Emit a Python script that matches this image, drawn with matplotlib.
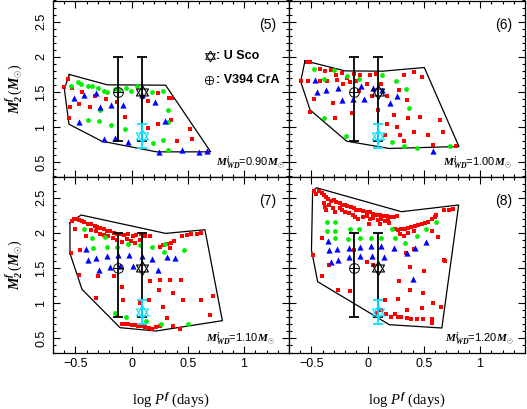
import matplotlib
matplotlib.use('Agg')
import matplotlib.pyplot as plt
from matplotlib.ticker import FixedLocator, MultipleLocator

plt.rcParams['font.family'] = ['Liberation Sans', 'DejaVu Sans']
plt.rcParams['mathtext.fontset'] = 'custom'
plt.rcParams['mathtext.rm'] = 'Liberation Serif'
plt.rcParams['mathtext.it'] = 'Liberation Serif:italic'
plt.rcParams['mathtext.bf'] = 'Liberation Serif:italic:bold'

# ---------------- data ----------------
# Panel (5)  M_WD = 0.90
p5_red_logp = [-0.57, -0.60, -0.53, -0.44, -0.33, -0.23, -0.13, -0.55, -0.47, -0.37, -0.56, -0.06,
               0.145, 0.23, 0.335, 0.36, 0.145, 0.235, 0.35, 0.40, 0.52, 0.535]
p5_red_m2 = [1.68, 1.57, 1.55, 1.50, 1.45, 1.40, 1.36, 1.29, 1.33, 1.29, 1.13, 1.15,
             1.37, 1.49, 1.41, 1.41, 0.99, 1.04, 1.10, 0.81, 0.97, 0.83]
p5_green_logp = [-0.54, -0.48, -0.45, -0.39, -0.35, -0.30, -0.25, -0.22, -0.15, -0.11, -0.05, -0.01, 0.05,
                 0.18, 0.28, -0.28, -0.39, -0.29, -0.18, -0.06, 0.19, 0.28, 0.32, 0.32, 0.32]
p5_green_m2 = [1.59, 1.64, 1.61, 1.58, 1.58, 1.56, 1.51, 1.50, 1.54, 1.53, 1.55, 1.51, 1.58,
               1.50, 1.52, 1.24, 1.10, 1.09, 1.03, 0.98, 0.78, 0.82, 1.08, 1.24, 0.68]
p5_blue_logp = [-0.51, -0.42, -0.32, -0.28, -0.18, -0.08, -0.47, -0.25, -0.15, -0.03, 0.09, 0.21,
                0.30, 0.24, 0.45, 0.60, 0.67]
p5_blue_m2 = [1.41, 1.46, 1.49, 1.29, 1.31, 1.31, 1.08, 0.83, 0.85, 0.79, 1.46, 1.36,
              1.09, 0.65, 0.67, 0.65, 0.66]
p5_poly_logp = [-0.555, -0.216, 0.302, 0.703, 0.222, -0.267, -0.558, -0.599, -0.555]
p5_poly_m2 = [1.749, 1.602, 1.597, 0.650, 0.650, 0.802, 1.043, 1.541, 1.749]

# Panel (6)  M_WD = 1.00
p6_red_logp = [-0.54, -0.51, -0.42, -0.38, -0.33, -0.28, -0.23, -0.18, -0.12, -0.07, 0.02, 0.07, 0.32,
               0.41, 0.48, -0.59, -0.53, -0.48, -0.51, -0.29, -0.31, -0.14, -0.08, 0.04, 0.09, 0.17,
               0.28, 0.35, 0.36, 0.41, 0.47, 0.54, 0.58, 0.64, 0.67, 0.79, 0.29, 0.32, 0.15, 0.26,
               0.23, 0.17, -0.22, -0.16, -0.10, -0.27, -0.01, 0.12, -0.36, -0.42]
p6_red_m2 = [1.92, 1.92, 1.82, 1.80, 1.81, 1.74, 1.77, 1.70, 1.76, 1.74, 1.74, 1.75, 1.74,
             1.78, 1.71, 1.65, 1.66, 1.40, 1.22, 1.13, 1.34, 1.20, 1.52, 1.44, 1.25, 1.44,
             1.53, 1.39, 1.13, 0.93, 1.14, 0.89, 0.75, 1.10, 0.93, 0.73, 0.89, 0.80, 0.89, 1.00,
             1.18, 1.04, 1.62, 1.64, 1.65, 1.67, 1.62, 1.62, 1.66, 1.65]
p6_green_logp = [-0.48, -0.39, -0.30, -0.18, -0.08, 0.13, 0.25, 0.34, 0.37, -0.39, -0.19, 0.22, 0.32,
                 0.44, 0.73]
p6_green_m2 = [1.82, 1.69, 1.81, 1.73, 1.68, 1.74, 1.65, 1.54, 1.27, 1.13, 0.88, 0.79, 0.73,
               0.70, 0.73]
p6_blue_logp = [-0.47, -0.45, -0.37, -0.26, -0.23, -0.13, -0.06, -0.03, 0.05, 0.13, 0.20, 0.26, 0.58]
p6_blue_m2 = [1.67, 1.50, 1.53, 1.56, 1.39, 1.40, 1.58, 1.40, 1.56, 1.53, 1.34, 1.44, 0.66]
p6_poly_logp = [-0.558, -0.20, 0.133, 0.504, 0.812, 0.192, -0.187, -0.513, -0.596, -0.558]
p6_poly_m2 = [1.943, 1.80, 1.796, 1.848, 0.726, 0.698, 0.802, 1.247, 1.649, 1.943]

# Panel (7)  M_WD = 1.10
p7_red_logp = [-0.53, -0.51, -0.49, -0.47, -0.44, -0.42, -0.39, -0.36, -0.33, -0.31, -0.28, -0.25,
               -0.22, -0.19, -0.16, -0.13, -0.10, -0.07, -0.03, 0.01, 0.04, 0.08, 0.12, 0.16,
               -0.36, -0.32, -0.28, -0.25, -0.21, -0.17, -0.13, -0.09, -0.04, -0.01, 0.03, 0.07,
               0.25, 0.28, 0.31, 0.35, 0.38, 0.45, 0.49, 0.53, 0.58, 0.62, 0.34,
               -0.54, -0.50, -0.46, -0.41, -0.47, -0.30, -0.32, -0.08, -0.16, 0.16, 0.25, 0.34, 0.44,
               0.24, 0.28, 0.37, 0.46, 0.62, 0.72, 0.70, 0.31, 0.37, 0.43, 0.07, -0.09, -0.13, 0.15,
               -0.09, -0.06, -0.03, 0.00, 0.03, 0.06, 0.09, 0.12, 0.15, 0.18, 0.22, 0.25]
p7_red_m2 = [2.17, 2.20, 2.19, 2.18, 2.17, 2.15, 2.13, 2.12, 2.09, 2.08, 2.07, 2.05,
             2.03, 2.02, 2.00, 1.99, 1.98, 1.97, 1.98, 1.96, 1.97, 1.98, 1.96, 1.95,
             2.04, 2.02, 1.99, 1.97, 1.95, 1.92, 1.90, 1.87, 1.91, 1.88, 1.85, 1.90,
             1.80, 1.82, 1.84, 1.86, 1.88, 1.95, 1.97, 1.98, 1.99, 2.00, 1.78,
             1.72, 2.06, 1.76, 1.96, 1.40, 1.38, 1.08, 1.05, 1.38, 1.31, 1.33, 1.33, 1.33,
             1.19, 0.95, 1.14, 1.05, 1.05, 1.10, 0.83, 0.79, 0.67, 0.64, 1.00, 1.23, 0.83, 1.05,
             0.71, 0.70, 0.70, 0.69, 0.69, 0.68, 0.67, 0.66, 0.65, 0.64, 0.66, 0.68]
p7_green_logp = [-0.42, -0.35, -0.24, -0.13, -0.03, 0.07, 0.18, 0.29, 0.30, 0.47, -0.34, -0.22,
                 -0.15, -0.05, 0.13, 0.26, 0.50]
p7_green_m2 = [2.05, 1.92, 1.94, 1.80, 1.84, 1.83, 1.80, 1.73, 1.84, 1.76, 1.78, 1.80,
               0.86, 0.81, 0.75, 0.70, 0.70]
p7_blue_logp = [-0.41, -0.39, -0.32, -0.22, -0.12, -0.02, 0.09, 0.18, 0.31, 0.39, -0.29, -0.19,
                -0.10, 0.01, 0.23]
p7_blue_m2 = [1.77, 1.61, 1.64, 1.67, 1.68, 1.69, 1.67, 1.63, 1.65, 1.64, 1.47, 1.51,
              1.53, 1.53, 1.47]
p7_poly_logp = [-0.549, -0.45, 0.302, 0.652, 0.807, 0.216, -0.104, -0.442, -0.549, -0.549]
p7_poly_m2 = [2.144, 2.253, 1.992, 2.044, 0.752, 0.605, 0.653, 1.197, 1.708, 2.144]

# Panel (8)  M_WD = 1.20
p8_red_logp = [-0.48, -0.46, -0.43, -0.41, -0.39, -0.37, -0.35, -0.33, -0.30, -0.28, -0.25, -0.23,
               -0.20, -0.18, -0.15, -0.12, -0.10, -0.07, -0.04, -0.01, 0.02, 0.05, 0.08, 0.11,
               0.14, 0.17, 0.20, 0.23, 0.26,
               -0.39, -0.38, -0.37, -0.34, -0.31, -0.29, -0.25, -0.23, -0.20, -0.17, -0.13, -0.11,
               -0.09, -0.04, -0.01, 0.02, 0.05, 0.09, 0.12, 0.15, 0.18, 0.01, 0.11, 0.19,
               0.24, 0.27, 0.30, 0.33, 0.36, 0.39, 0.42, 0.45, 0.48, 0.51, 0.54, 0.57, 0.60, 0.61,
               0.29, 0.32, 0.36, 0.41,
               0.68, 0.72, 0.76, 0.63, 0.69, -0.49,
               -0.34, -0.41, -0.26, -0.16, -0.01, 0.05, 0.38, 0.50, 0.68, 0.28, 0.15, 0.27,
               0.38, 0.49, 0.65, 0.58, 0.16, 0.24, 0.27, 0.30, 0.35, 0.39, 0.44, 0.49,
               0.57, 0.57, 0.35, 0.48, 0.08, 0.12, 0.21, 0.34, 0.41, -0.12, 0.57, -0.41]
p8_red_m2 = [2.60, 2.55, 2.59, 2.56, 2.54, 2.51, 2.48, 2.45, 2.47, 2.44, 2.42, 2.39,
             2.40, 2.38, 2.36, 2.35, 2.33, 2.32, 2.31, 2.30, 2.29, 2.27, 2.26, 2.25,
             2.24, 2.24, 2.23, 2.23, 2.24,
             2.42, 2.37, 2.32, 2.40, 2.35, 2.30, 2.35, 2.32, 2.30, 2.28, 2.26, 2.22,
             2.19, 2.23, 2.24, 2.19, 2.21, 2.18, 2.20, 2.17, 2.20, 2.13, 2.13, 2.14,
             2.05, 2.04, 2.05, 2.06, 2.07, 2.08, 2.10, 2.11, 2.13, 2.14, 2.16, 2.19, 2.22, 2.25,
             1.99, 1.96, 2.00, 2.02,
             2.32, 2.33, 2.34, 1.94, 1.60, 1.69,
             1.55, 1.38, 1.19, 1.18, 1.58, 1.54, 1.52, 1.46, 1.61, 1.31, 1.05, 1.06,
             1.19, 1.14, 0.95, 1.01, 0.84, 0.84, 0.80, 0.81, 0.79, 0.77, 0.78, 0.77,
             0.78, 0.72, 0.90, 0.93, 0.86, 0.91, 0.81, 1.71, 1.77, 1.76, 2.02, 1.93]
p8_green_logp = [-0.36, -0.29, -0.36, -0.29, -0.16, -0.08, 0.22, 0.52, -0.29, -0.175, -0.07, 0.03,
                 0.12, 0.24, 0.33, 0.44, 0.61]
p8_green_m2 = [2.15, 2.15, 2.03, 2.03, 2.05, 2.05, 2.06, 2.06, 1.92, 1.91, 1.93, 1.93,
               1.93, 1.93, 1.85, 1.95, 2.15]
p8_blue_logp = [-0.35, -0.34, -0.27, -0.17, -0.07, 0.03, 0.12, 0.23, 0.35, 0.42, 0.52, -0.33,
                -0.26, -0.17, -0.07, 0.035, 0.145, 0.40]
p8_blue_m2 = [1.89, 1.75, 1.77, 1.79, 1.80, 1.81, 1.81, 1.78, 1.71, 1.79, 1.87, 1.58,
              1.61, 1.65, 1.67, 1.67, 1.66, 1.35]
p8_poly_logp = [-0.49, -0.455, 0.30, 0.81, 0.66, 0.193, -0.445, -0.50, -0.49]
p8_poly_m2 = [2.59, 2.64, 2.30, 2.395, 0.648, 0.695, 1.306, 1.756, 2.59]

# Observed systems
vcra_logp, vcra_m2, vcra_err_lo, vcra_err_hi = -0.12, 1.50, 0.70, 0.50
usco_logp, usco_m2, usco_err_lo, usco_err_hi = 0.09, 1.50, 0.70, 0.50
usco2_logp, usco2_m2, usco2_err = 0.09, 0.88, 0.17

panel_labels = ['(5)', '(6)', '(7)', '(8)']
wd_masses = ['0.90', '1.00', '1.10', '1.20']
xtick_vals = [-0.5, 0, 0.5, 1]
xtick_labels = ['\u22120.5', '0', '0.5', '1']
ytick_vals = [0.5, 1, 1.5, 2, 2.5]
ytick_labels = ['0.5', '1', '1.5', '2', '2.5']

# ---------------- figure ----------------
W, H = 527, 409
fig = plt.figure(figsize=(W / 100, H / 100), dpi=100)
x0l, x0r, pw = 53 / W, 289 / W, 236 / W
y0b, ph = (H - 352.5) / H, 176 / H
y0t = y0b + ph
axes = [fig.add_axes([x0l, y0t, pw, ph]), fig.add_axes([x0r, y0t, pw, ph]),
        fig.add_axes([x0l, y0b, pw, ph]), fig.add_axes([x0r, y0b, pw, ph])]

STAR_UP = [(0, 1), (-0.866, -0.5), (0.866, -0.5), (0, 1)]
STAR_DN = [(0, -1), (-0.866, 0.5), (0.866, 0.5), (0, -1)]


def star(ax, x, y, color, ms=10, mew=0.8, **kw):
    for m in (STAR_UP, STAR_DN):
        ax.plot(x, y, marker=m, ms=ms, mfc='none', mec=color, mew=mew, ls='none', zorder=6, **kw)


def oplus(ax, x, y, ms=7, mew=0.7, **kw):
    ax.plot(x, y, marker='o', ms=ms, mfc='none', mec='k', mew=mew, ls='none', zorder=6, **kw)
    ax.plot(x, y, marker='+', ms=ms, mec='k', mew=mew, ls='none', zorder=6, **kw)


data = [
    (p5_red_logp, p5_red_m2, p5_green_logp, p5_green_m2, p5_blue_logp, p5_blue_m2, p5_poly_logp, p5_poly_m2),
    (p6_red_logp, p6_red_m2, p6_green_logp, p6_green_m2, p6_blue_logp, p6_blue_m2, p6_poly_logp, p6_poly_m2),
    (p7_red_logp, p7_red_m2, p7_green_logp, p7_green_m2, p7_blue_logp, p7_blue_m2, p7_poly_logp, p7_poly_m2),
    (p8_red_logp, p8_red_m2, p8_green_logp, p8_green_m2, p8_blue_logp, p8_blue_m2, p8_poly_logp, p8_poly_m2),
]
wd_xpos = [0.983, 0.945, 0.94, 0.95]

for i, ax in enumerate(axes):
    rx, ry, gx, gy, bx, by, px, py = data[i]
    ax.plot(px, py, color='k', lw=0.9, zorder=2)
    ax.scatter(rx, ry, marker='s', s=8, c='#ff0000', linewidths=0, zorder=3)
    ax.scatter(gx, gy, marker='o', s=12, c='#00ee00', linewidths=0, zorder=3)
    ax.scatter(bx, by, marker='^', s=20, c='#0000ff', linewidths=0, zorder=3)

    ax.errorbar([vcra_logp], [vcra_m2], yerr=[[vcra_err_lo], [vcra_err_hi]], fmt='none',
                ecolor='k', elinewidth=1.3, capsize=3.5, capthick=1.3, zorder=5)
    ax.errorbar([usco_logp], [usco_m2], yerr=[[usco_err_lo], [usco_err_hi]], fmt='none',
                ecolor='k', elinewidth=1.3, capsize=3.5, capthick=1.3, zorder=5)
    ax.errorbar([usco2_logp], [usco2_m2], yerr=[[usco2_err], [usco2_err]], fmt='none',
                ecolor='#00e5ff', elinewidth=1.3, capsize=3.5, capthick=1.3, zorder=5)
    oplus(ax, [vcra_logp], [vcra_m2])
    star(ax, [usco_logp], [usco_m2], 'k')
    star(ax, [usco2_logp], [usco2_m2], '#00e5ff')

    ax.set_xlim(-0.7, 1.4)
    ax.set_ylim(0.3, 2.8)
    ax.xaxis.set_major_locator(FixedLocator(xtick_vals))
    ax.xaxis.set_minor_locator(MultipleLocator(0.1))
    ax.yaxis.set_major_locator(FixedLocator(ytick_vals))
    ax.yaxis.set_minor_locator(MultipleLocator(0.1))
    ax.tick_params(which='both', direction='in', top=True, right=True, width=0.8, labelsize=9)
    ax.tick_params(which='major', length=5)
    ax.tick_params(which='minor', length=2.5)
    ax.tick_params(axis='x', pad=4)
    ax.tick_params(axis='y', pad=4)
    for s in ax.spines.values():
        s.set_linewidth(0.9)

    if i in (0, 2):
        ax.set_yticklabels(ytick_labels, rotation=90, va='center')
        ax.set_ylabel(r'$\mathbf{M}_{\mathbf{2}}^{\mathbf{f}}\,(\mathbf{M}_{\odot})$', fontsize=10)
        ax.yaxis.set_label_coords(-0.12, 0.5)
    else:
        ax.set_yticklabels([])
    if i in (2, 3):
        ax.set_xticklabels(xtick_labels)
        ax.set_xlabel(r'$\mathrm{log}\ P^{\mathbf{f}}\ \mathrm{(days)}$', fontsize=10.5)
        ax.xaxis.set_label_coords(0.5, -0.224)
    else:
        ax.set_xticklabels([])

    ax.text(0.945, 0.86, panel_labels[i], transform=ax.transAxes, ha='right', va='center',
            fontsize=10)
    ax.text(wd_xpos[i], 0.074,
            r'$\mathbf{M}^{\mathbf{i}}_{\mathbf{WD}}$=' + wd_masses[i] + r'$\mathbf{M}_{\odot}$',
            transform=ax.transAxes, ha='right', va='center', fontsize=8)

# legend in panel (5)
ax = axes[0]
star(ax, [0.665], [0.686], 'k', ms=8, mew=0.7, transform=ax.transAxes, clip_on=False)
ax.text(0.69, 0.686, ': U Sco', transform=ax.transAxes, ha='left', va='center',
        fontsize=9, fontweight='bold')
oplus(ax, [0.661], [0.549], ms=6, mew=0.6, transform=ax.transAxes, clip_on=False)
ax.text(0.69, 0.549, ': V394 CrA', transform=ax.transAxes, ha='left', va='center',
        fontsize=9, fontweight='bold')

fig.savefig('out.png', dpi=100)
